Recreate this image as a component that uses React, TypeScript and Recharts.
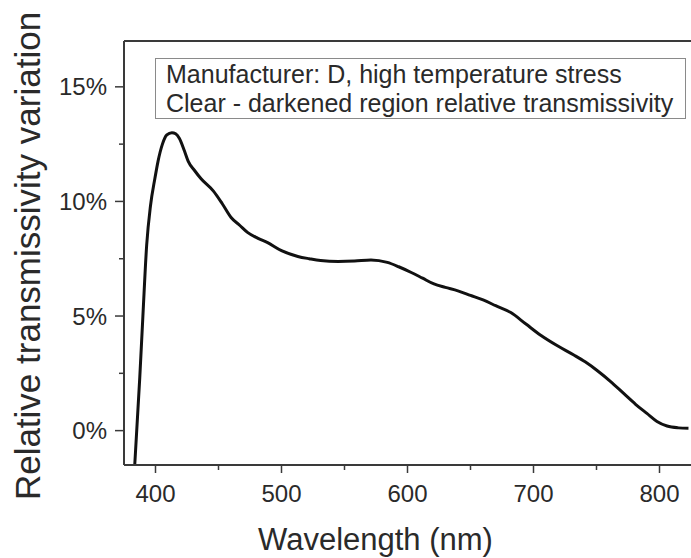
import React from 'react';
import { LineChart, Line, XAxis, YAxis, Legend, ReferenceLine } from 'recharts';

const wavelengths = [
  383, 387.5, 390, 393, 396, 399.5, 402, 405.5, 409, 413, 416, 419, 423, 426, 431, 436, 446, 453,
  460, 467, 473, 481, 489, 500, 513, 522, 531, 545, 558, 571, 584, 593, 603, 612, 621, 630, 640,
  650, 660, 670, 682, 694, 706, 719, 732, 741, 751, 761, 772, 781, 790, 798, 806, 815, 823,
];
const variation = [
  -2.0, 2.3, 5.0, 8.1, 9.8, 11.0, 11.75, 12.5, 12.9, 13.0, 12.95, 12.75, 12.2, 11.75, 11.35, 11.0,
  10.45, 9.9, 9.3, 8.95, 8.65, 8.4, 8.2, 7.85, 7.6, 7.5, 7.42, 7.38, 7.4, 7.45, 7.34, 7.15, 6.9,
  6.65, 6.4, 6.25, 6.1, 5.9, 5.7, 5.45, 5.15, 4.65, 4.15, 3.7, 3.3, 3.0, 2.6, 2.15, 1.6, 1.15, 0.75,
  0.4, 0.2, 0.12, 0.1,
];

// major ticks get a label, the in-between ones only a short tick
const xTicks = [400, 450, 500, 550, 600, 650, 700, 750, 800];
const xLabelled = [400, 500, 600, 700, 800];
const yTicks = [0, 2.5, 5, 7.5, 10, 12.5, 15];
const yLabelled = [0, 5, 10, 15];

const legendLines = [
  'Manufacturer: D, high temperature stress',
  'Clear - darkened region relative transmissivity',
];

const data = wavelengths.map((nm, i) => ({ nm, value: variation[i] }));

const FONT = '"Liberation Sans", Arial, sans-serif';
const AXIS = '#3a3a3a';
const TEXT = '#2a2a2a';

const XTick = (props: any) => {
  const { x, y, payload } = props;
  const major = xLabelled.includes(payload.value);
  return (
    <g>
      <line x1={x} x2={x} y1={y} y2={y + (major ? 8 : 5)} stroke={AXIS} strokeWidth={1.5} />
      {major && (
        <text x={x} y={y + 20} dy="0.71em" textAnchor="middle" fill={TEXT} fontSize={24} fontFamily={FONT}>
          {payload.value}
        </text>
      )}
    </g>
  );
};

const YTick = (props: any) => {
  const { x, y, payload } = props;
  const major = yLabelled.includes(payload.value);
  return (
    <g>
      <line x1={x} x2={x - (major ? 9 : 5)} y1={y} y2={y} stroke={AXIS} strokeWidth={1.5} />
      {major && (
        <text x={x - 17} y={y} dy="0.355em" textAnchor="end" fill={TEXT} fontSize={24} fontFamily={FONT}>
          {`${payload.value}%`}
        </text>
      )}
    </g>
  );
};

const InfoBox = () => (
  <div
    style={{
      border: '1.5px solid #8a8a8a',
      boxSizing: 'border-box',
      width: 531,
      height: 61,
      padding: '1px 10px',
      fontFamily: FONT,
      fontSize: 25,
      lineHeight: '29px',
      color: TEXT,
      background: '#fff',
      whiteSpace: 'nowrap',
    }}
  >
    {legendLines.map((l) => (
      <div key={l}>{l}</div>
    ))}
  </div>
);

export default function App() {
  return (
    <div style={{ position: 'absolute', left: 0, top: 0, width: 691, height: 558, background: '#fff' }}>
      <LineChart width={691} height={558} data={data} margin={{ top: 41, right: 0, bottom: 0, left: 0 }}>
        <XAxis
          dataKey="nm"
          type="number"
          domain={[375, 825]}
          allowDataOverflow
          ticks={xTicks}
          interval={0}
          tickSize={0}
          tickMargin={0}
          tickLine={false}
          height={93}
          axisLine={{ stroke: AXIS, strokeWidth: 2 }}
          tick={<XTick />}
          label={{ value: 'Wavelength (nm)', position: 'center', dx: -32, dy: 27, fill: TEXT, fontSize: 31, fontFamily: FONT }}
        />
        <YAxis
          type="number"
          domain={[-1.5, 17]}
          allowDataOverflow
          ticks={yTicks}
          interval={0}
          tickSize={0}
          tickMargin={0}
          tickLine={false}
          width={124}
          axisLine={{ stroke: AXIS, strokeWidth: 2 }}
          tick={<YTick />}
          label={{
            value: 'Relative transmissivity variation',
            angle: -90,
            position: 'center',
            dx: -34,
            dy: 3,
            fill: TEXT,
            fontSize: 35,
            fontFamily: FONT,
          }}
        />
        <ReferenceLine y={17} stroke={AXIS} strokeWidth={2} />
        <Legend
          layout="horizontal"
          verticalAlign="middle"
          align="center"
          content={() => <InfoBox />}
          wrapperStyle={{ left: 155, top: 58, width: 531, height: 61 }}
        />
        <Line
          dataKey="value"
          type="monotone"
          stroke="#111"
          strokeWidth={3}
          dot={false}
          isAnimationActive={false}
        />
      </LineChart>
    </div>
  );
}
